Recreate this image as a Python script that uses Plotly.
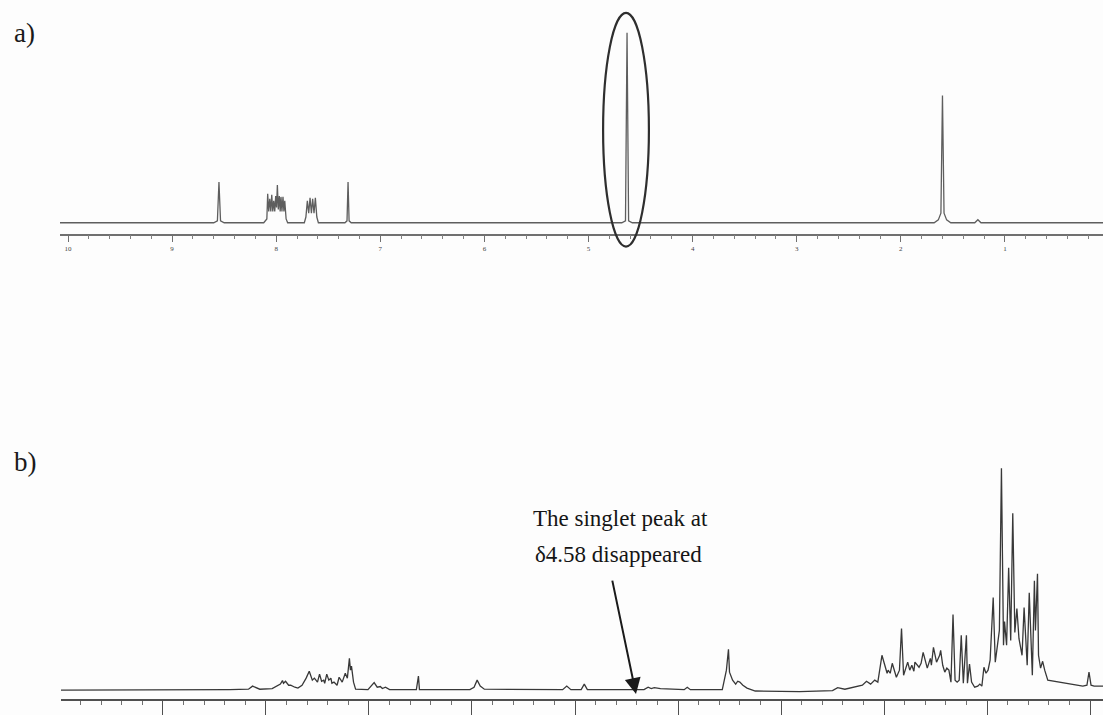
import plotly.graph_objects as go

# ---------------- data ----------------
# a) spectrum: chemical shift (ppm) vs relative intensity (tallest = 100)
a_ppm = [10.08, 8.60, 8.565, 8.55, 8.535, 8.50,
         8.12, 8.09, 8.082, 8.072, 8.062, 8.052, 8.043, 8.033, 8.024, 8.014, 8.005, 7.997,
         7.989, 7.980, 7.970, 7.962, 7.954, 7.945, 7.935, 7.926, 7.918, 7.905, 7.89,
         7.73, 7.715, 7.701, 7.688, 7.675, 7.662, 7.650, 7.637, 7.624, 7.61, 7.595,
         7.34, 7.32, 7.31, 7.30, 7.28,
         4.68, 4.645, 4.63, 4.615, 4.58,
         1.68, 1.64, 1.615, 1.60, 1.585, 1.56, 1.52,
         1.29, 1.26, 1.23, 0.05]
a_int = [0, 0, 1.0, 21.5, 1.0, 0,
         0, 2, 15.2, 6, 12.6, 6, 14.7, 6, 11.5, 6, 14.1, 8,
         19.9, 7, 14.1, 6, 13.6, 6, 13.6, 6, 11.5, 2, 0,
         0, 3, 11.5, 5, 13.1, 5, 12.6, 5, 13.1, 3, 0,
         0, 1, 21.5, 1, 0,
         0, 1.0, 100, 1.0, 0,
         0, 1.5, 5, 67, 5, 1.5, 0,
         0, 1.6, 0, 0]

# b) spectrum
b_ppm = [9.99, 8.64, 8.35, 8.17, 8.13, 8.06, 7.94, 7.86, 7.84, 7.83, 7.81, 7.78, 7.76,
         7.72, 7.69, 7.65, 7.61, 7.58, 7.55, 7.53, 7.50, 7.48, 7.46, 7.44, 7.43, 7.41,
         7.39, 7.37, 7.36, 7.34, 7.31, 7.29, 7.26, 7.23, 7.21, 7.19, 7.18, 7.17, 7.15,
         7.13, 7.01, 6.95, 6.92, 6.89, 6.87, 6.84, 6.80, 6.54, 6.52, 6.51, 6.02, 5.98,
         5.95, 5.92, 5.88, 5.12, 5.08, 5.04, 4.94, 4.91, 4.88, 4.33, 4.29, 4.26, 4.23,
         4.17, 4.08, 3.94, 3.91, 3.88, 3.57, 3.53, 3.51, 3.50, 3.47, 3.44, 3.42, 3.40,
         3.37, 3.33, 3.25, 2.82, 2.50, 2.45, 2.38, 2.28, 2.21, 2.17, 2.13, 2.09, 2.06,
         2.02, 1.99, 1.97, 1.96, 1.94, 1.92, 1.88, 1.85, 1.83, 1.81, 1.79, 1.77, 1.75,
         1.73, 1.71, 1.70, 1.66, 1.64, 1.62, 1.60, 1.58, 1.55, 1.54, 1.52, 1.50, 1.49,
         1.46, 1.45, 1.43, 1.41, 1.39, 1.37, 1.35, 1.33, 1.31, 1.29, 1.27, 1.25, 1.23,
         1.20, 1.19, 1.17, 1.15, 1.12, 1.09, 1.07, 1.05, 1.03, 1.01, 0.99, 0.97, 0.94,
         0.92, 0.90, 0.88, 0.86, 0.84, 0.83, 0.81, 0.79, 0.77, 0.75, 0.73, 0.71, 0.69,
         0.66, 0.64, 0.61, 0.59, 0.56, 0.54, 0.53, 0.51, 0.50, 0.48, 0.46, 0.44, 0.41,
         0.29, 0.19, 0.07, 0.03, 0.01, -0.01, -0.04, -0.13]
b_int = [0, 0, 0.2, 0.4, 1.8, 0.4, 0.7, 2.7, 4.3, 3.1, 4.0, 2.2, 2.2,
         1.3, 0.9, 2.2, 5.4, 8.5, 4.5, 5.4, 3.6, 7.2, 4.0, 4.5, 3.1, 7.2,
         4.5, 5.4, 3.1, 3.6, 2.2, 5.8, 3.6, 7.6, 5.4, 14.3, 9.0, 10.8, 3.6,
         0.4, 0.2, 3.4, 1.3, 1.6, 0.7, 1.3, 0.2, 0.2, 6.3, 0.2, 0.2, 1.3,
         4.5, 1.8, 0.4, 0.2, 1.8, 0.2, 0.2, 2.7, 0.2, 0.2, 1.3, 0.7, 1.1,
         0.7, 0.4, 0.2, 1.3, 0.2, 0.2, 9.0, 18.4, 8.1, 4.5, 2.7, 4.0, 3.6,
         2.2, 0.9, -0.4, -0.7, -0.2, 1.1, 0.4, 1.3, 2.2, 4.0, 2.7, 4.5, 3.6,
         15.7, 11.2, 7.6, 9.0, 7.6, 12.1, 5.8, 9.0, 27.8, 6.7, 9.9, 12.6, 9.0,
         11.2, 8.5, 12.6, 10.3, 12.1, 17.0, 13.5, 9.9, 14.3, 11.2, 19.3, 13.5, 12.6,
         15.7, 17.9, 11.2, 8.1, 9.9, 9.0, 3.6, 34.1, 4.5, 3.6, 4.5, 24.7, 3.1,
         24.7, 3.1, 11.7, 3.6, 1.3, 1.8, 2.7, 1.8, 10.3, 7.6, 9.0, 13.5, 41.7,
         12.6, 20.2, 26.9, 100, 20.2, 30.9, 20.2, 55.2, 22.4, 79.8, 26.0, 36.8, 23.3,
         15.7, 37.2, 11.2, 43.9, 6.7, 49.3, 26.9, 52.5, 15.7, 9.9, 13.0, 9.0, 4.5,
         3.6, 2.7, 1.8, 2.2, 8.1, 2.2, 1.8, 1.8]

major_ticks = [10, 9, 8, 7, 6, 5, 4, 3, 2, 1]
tick_text = [str(t) for t in major_ticks]
circled_peak_ppm = 4.63       # position of the singlet on the a) axis
panel_labels = ["a)", "b)"]
note_lines = ["The singlet peak at", "δ4.58 disappeared"]

# ---------------- figure ----------------
W, H = 1103, 715
SERIF = "Liberation Serif, Times New Roman, serif"

def py(pix):
    """pixel row -> paper y"""
    return 1 - pix / H

fig = go.Figure()
fig.add_trace(go.Scatter(x=a_ppm, y=a_int, mode="lines", xaxis="x", yaxis="y",
                         line=dict(color="#5e5e5e", width=1.3), hoverinfo="skip",
                         showlegend=False))
fig.add_trace(go.Scatter(x=b_ppm, y=b_int, mode="lines", xaxis="x2", yaxis="y2",
                         line=dict(color="#383838", width=1.3), hoverinfo="skip",
                         showlegend=False))

common_x = dict(showgrid=False, zeroline=False, showline=True, ticks="outside",
                dtick=1, tick0=0)

fig.update_layout(
    width=W, height=H, autosize=False,
    margin=dict(l=0, r=0, t=0, b=0),
    paper_bgcolor="#fdfdfd", plot_bgcolor="rgba(0,0,0,0)",
    xaxis=dict(**common_x, domain=[60 / W, 1], range=[10.077, 0.058], anchor="y",
               linecolor="#707070", linewidth=1.6, tickcolor="#707070", ticklen=7,
               tickwidth=1.3,
               tickmode="array", tickvals=major_ticks, ticktext=tick_text,
               tickfont=dict(family=SERIF, size=7, color="#444444"),
               minor=dict(dtick=0.2, tick0=0, ticklen=4, tickcolor="#808080",
                          ticks="outside", showgrid=False)),
    yaxis=dict(domain=[py(235), py(10)], range=[-5.76, 112.04], visible=False,
               anchor="x"),
    xaxis2=dict(**common_x, domain=[61 / W, 1], range=[9.99, -0.126], anchor="y2",
                linecolor="#505050", linewidth=1.6, tickcolor="#505050", ticklen=16,
                tickwidth=1.4, showticklabels=False,
                minor=dict(dtick=0.2, tick0=0, ticklen=4, tickcolor="#707070",
                           ticks="outside", showgrid=False)),
    yaxis2=dict(domain=[py(703), py(440)], range=[-4.04, 113.9], visible=False,
                anchor="x2"),
)

# ellipse around the singlet in a)
fig.add_shape(type="circle", xref="x", yref="paper",
              x0=circled_peak_ppm + 0.23, x1=circled_peak_ppm - 0.21,
              y0=py(248), y1=py(13),
              line=dict(color="#2e2e2e", width=2.2))

# panel labels
fig.add_annotation(text=panel_labels[0], xref="paper", yref="paper",
                   x=12 / W, y=py(33), xanchor="left", yanchor="middle",
                   showarrow=False, font=dict(family=SERIF, size=27, color="#1a1a1a"))
fig.add_annotation(text=panel_labels[1], xref="paper", yref="paper",
                   x=12 / W, y=py(465), xanchor="left", yanchor="middle",
                   showarrow=False, font=dict(family=SERIF, size=27, color="#1a1a1a"))

# note text
fig.add_annotation(text=note_lines[0], xref="paper", yref="paper",
                   x=620 / W, y=py(521), xanchor="center", yanchor="middle",
                   showarrow=False, font=dict(family=SERIF, size=23, color="#151515"))
fig.add_annotation(text=note_lines[1], xref="paper", yref="paper",
                   x=618 / W, y=py(558), xanchor="center", yanchor="middle",
                   showarrow=False, font=dict(family=SERIF, size=23, color="#151515"))

# arrow pointing to where the singlet was
fig.add_annotation(text="", xref="x2", yref="y2",
                   x=(1090 - 636) / 103, y=-1.8,
                   ax=-24, ay=-115, axref="pixel", ayref="pixel",
                   showarrow=True, arrowhead=2, arrowsize=1.6, arrowwidth=2,
                   arrowcolor="#1a1a1a")

fig.write_html("out.html")
